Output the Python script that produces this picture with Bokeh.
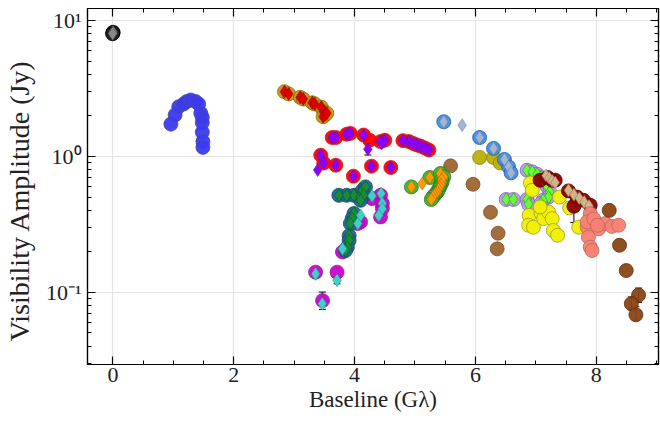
from bokeh.plotting import figure
from bokeh.models import (LinearAxis, LogAxis, FixedTicker,
                          CustomJSTickFormatter, ColumnDataSource, Whisker, TeeHead)
from bokeh.embed import file_html
from bokeh.resources import INLINE

# ---------------- data (baseline in Glambda, amplitude in Jy) ----------------
blk_x = [0.0, 0.004, -0.004]
blk_y = [8.05, 8.15, 7.95]

blue_x = [0.96, 1.03, 1.09, 1.17, 1.22, 1.29, 1.37, 1.42, 1.455, 1.48, 1.48, 1.48, 1.49, 1.49]
blue_y = [1.72, 2.01, 2.31, 2.42, 2.52, 2.59, 2.52, 2.42, 2.07, 1.93, 1.76, 1.50, 1.28, 1.16]

gold_x = [2.84, 2.91, 3.10, 3.15, 3.30, 3.34, 3.45, 3.49, 3.51, 3.48, 3.54]
gold_y = [2.98, 2.87, 2.71, 2.63, 2.47, 2.42, 2.29, 2.12, 2.01, 1.95, 2.07]

red_x = [3.63, 3.69, 3.87, 3.93, 4.15, 4.25, 4.43, 4.50, 4.80, 4.90, 4.97, 5.03, 5.09, 5.16, 5.23,
         3.44, 3.49, 3.69, 3.98, 4.28, 4.60]
red_y = [1.37, 1.37, 1.45, 1.47, 1.43, 1.31, 1.28, 1.31, 1.30, 1.28, 1.24, 1.21, 1.185, 1.15, 1.11,
         1.017, 0.89, 0.858, 0.712, 0.844, 0.825]
purp_x = [3.63, 3.69, 3.87, 3.93, 4.15, 4.43, 4.50, 4.80, 4.90, 4.97, 5.03, 5.09, 5.16, 5.23,
          3.44, 3.49, 3.69, 3.98, 4.28, 4.60, 3.39, 4.22, 4.45]
purp_y = [1.37, 1.37, 1.45, 1.47, 1.43, 1.28, 1.31, 1.30, 1.28, 1.24, 1.21, 1.185, 1.15, 1.11,
          1.017, 0.89, 0.858, 0.712, 0.844, 0.825, 0.79, 1.126, 1.24]

teal_x = [3.74, 3.87, 3.99, 4.09, 4.13, 4.18, 4.15, 4.10, 3.99, 3.96, 3.93, 3.91, 3.91, 3.88, 3.85]
teal_y = [0.515, 0.515, 0.515, 0.50, 0.56, 0.594, 0.515, 0.473, 0.378, 0.347, 0.319, 0.26, 0.24, 0.214, 0.202]

mag_x = [3.355, 3.71, 3.47, 4.29, 4.43, 4.46, 4.46, 4.43, 4.10, 4.05, 3.80]
mag_y = [0.140, 0.140, 0.0865, 0.487, 0.515, 0.448, 0.412, 0.357, 0.328, 0.319, 0.197]
turq_x = [4.29, 4.44, 4.46, 4.46, 4.40, 4.10, 4.055, 3.80, 3.355, 3.71, 3.466]
turq_y = [0.51, 0.53, 0.448, 0.41, 0.366, 0.366, 0.319, 0.208, 0.136, 0.122, 0.082]

grn_x = [4.94, 5.245, 5.42, 5.476, 5.45, 5.44, 5.43, 5.41, 5.39, 5.37, 5.345, 5.32, 5.295, 5.27]
grn_y = [0.594, 0.696, 0.745, 0.703, 0.646, 0.67, 0.62, 0.594, 0.57, 0.545, 0.53, 0.515, 0.50, 0.48]
org_x = grn_x + [5.12]
org_y = grn_y + [0.628]

sien_x = [5.59, 5.96, 6.25, 6.375, 6.36]
sien_y = [0.848, 0.621, 0.386, 0.271, 0.208]

olive_x = [6.07, 6.30, 6.41]
olive_y = [0.978, 0.978, 0.89]

dodg_x = [5.476, 6.07, 6.30, 6.48, 6.55, 6.59]
dodg_y = [1.79, 1.37, 1.14, 0.945, 0.834, 0.753]
steel_x = dodg_x + [5.78]
steel_y = dodg_y + [1.69]

lav_x = [6.855, 6.94, 7.02, 7.085, 7.14, 7.185, 7.23, 7.21, 6.51, 6.63, 6.855, 6.88, 7.12, 7.085]
lav_y = [0.788, 0.766, 0.736, 0.696, 0.646, 0.60, 0.545, 0.50, 0.48, 0.48, 0.48, 0.443, 0.473, 0.448]

yel_x = [6.91, 6.94, 6.89, 6.88, 6.96, 7.085, 7.13, 7.21, 7.27, 7.29, 7.36, 7.39, 7.56, 7.71, 7.07]
yel_y = [0.635, 0.561, 0.367, 0.31, 0.30, 0.381, 0.347, 0.388, 0.347, 0.284, 0.262, 0.50, 0.416, 0.30, 0.423]

dred_x = [7.07, 7.195, 7.27, 7.32, 7.54, 7.68, 7.79, 7.90, 7.63]
dred_y = [0.665, 0.696, 0.665, 0.665, 0.555, 0.50, 0.473, 0.435, 0.428]
tan_x = [7.17, 7.22, 7.27, 7.32, 7.54, 7.63, 7.72, 7.80, 7.88]
tan_y = [0.72, 0.69, 0.66, 0.64, 0.56, 0.52, 0.49, 0.46, 0.43]

salm_x = [7.90, 7.98, 8.04, 8.15, 8.26, 8.37, 7.85, 7.87, 7.90, 7.93, 7.85, 7.96, 8.02]
salm_y = [0.377, 0.328, 0.292, 0.319, 0.304, 0.31, 0.30, 0.254, 0.214, 0.202, 0.328, 0.345, 0.31]

dbrn_x = [8.215, 8.385, 8.496, 8.70, 8.58, 8.656]
dbrn_y = [0.399, 0.221, 0.144, 0.095, 0.082, 0.068]

err_x = [4.22, 3.466, 3.71, 7.63, 8.70, 8.58, 8.656]
err_lo = [1.02, 0.0745, 0.115, 0.325, 0.084, 0.074, 0.062]
err_hi = [1.24, 0.100, 0.130, 0.535, 0.107, 0.092, 0.078]

x_ticks = [0, 2, 4, 6, 8]
y_ticks = [0.1, 1, 10]

# ---------------- figure ----------------
FONT = "Liberation Serif"
p = figure(width=660, height=422, y_axis_type="log",
           x_range=(-0.42, 9.03), y_range=(0.0293, 12.2),
           output_backend="svg", toolbar_location=None,
           min_border_left=86, min_border_right=2, min_border_top=8, min_border_bottom=58)
p.outline_line_color = "black"
p.outline_line_width = 1.2
p.background_fill_color = "white"

xticker = FixedTicker(ticks=x_ticks, minor_ticks=[v * 0.5 for v in range(-1, 19)])
yminor = [m * 10.0 ** e for e in (-2, -1, 0, 1) for m in range(2, 10)]
yticker = FixedTicker(ticks=y_ticks, minor_ticks=yminor)

sup = CustomJSTickFormatter(code="""
const e = Math.round(Math.log10(tick));
const s = {'-':'\u207b','0':'\u2070','1':'\u00b9','2':'\u00b2','3':'\u00b3','4':'\u2074',
           '5':'\u2075','6':'\u2076','7':'\u2077','8':'\u2078','9':'\u2079'};
return '10' + String(e).split('').map(c => s[c]).join('');
""")

def style(ax):
    ax.major_tick_in = 8
    ax.major_tick_out = 0
    ax.minor_tick_in = 4
    ax.minor_tick_out = 0
    ax.major_tick_line_color = "black"
    ax.minor_tick_line_color = "black"
    ax.major_tick_line_width = 1.2
    ax.minor_tick_line_width = 1
    ax.axis_line_color = "black"
    ax.axis_line_width = 1.2
    ax.major_label_text_font = FONT
    ax.major_label_text_font_size = "22px"
    ax.major_label_text_color = "#222222"
    ax.axis_label_text_font = FONT
    ax.axis_label_text_font_style = "normal"
    ax.axis_label_text_color = "#222222"

xa = p.xaxis[0]
xa.ticker = xticker
style(xa)
xa.axis_label = "Baseline (G\u03bb)"
xa.axis_label_text_font_size = "23px"
xa.major_label_standoff = 3
xa.axis_label_standoff = 2

ya = p.yaxis[0]
ya.ticker = yticker
ya.formatter = sup
style(ya)
# trailing no-break spaces nudge the centred, rotated title slightly downwards
ya.axis_label = "Visibility Amplitude (Jy)" + "\u00a0" * 4
ya.axis_label_text_font_size = "28px"
ya.major_label_standoff = 6
ya.axis_label_standoff = 8

top = LinearAxis(ticker=xticker)
style(top)
top.major_label_text_color = None
top.major_label_text_font_size = "1px"
top.major_label_standoff = 0
p.add_layout(top, "above")
right = LogAxis(ticker=yticker)
style(right)
right.major_label_text_color = None
right.major_label_text_font_size = "1px"
right.major_label_standoff = 0
p.add_layout(right, "right")

for g in (p.xgrid[0], p.ygrid[0]):
    g.grid_line_color = "#e4e4e4"
    g.grid_line_width = 1.2
p.xgrid[0].ticker = xticker
p.ygrid[0].ticker = yticker

CS = 14
DS = 13

def circ(x, y, color, edge="#555555"):
    p.scatter(x, y, marker="circle", size=CS, fill_color=color, line_color=edge,
              line_width=0.8, fill_alpha=0.95)

def diam(x, y, color, edge="#444444"):
    p.scatter(x, y, marker="diamond", size=DS, fill_color=color, line_color=edge,
              line_width=0.5)

# error bars first
esrc = ColumnDataSource(dict(x=err_x, lo=err_lo, hi=err_hi))
p.add_layout(Whisker(source=esrc, base="x", lower="lo", upper="hi", dimension="height",
                     line_color="black", line_width=1,
                     lower_head=TeeHead(size=7, line_color="black", line_width=1),
                     upper_head=TeeHead(size=7, line_color="black", line_width=1)))

circ(blk_x, blk_y, "#222222", edge="#000000")
diam(blk_x, blk_y, "#888888")
circ(blue_x, blue_y, "#3a3af2", edge="#4a4aa0")
circ(gold_x, gold_y, "#c8960c", edge="#8a6a10")
diam(gold_x, gold_y, "#e00000", edge="#800000")
circ(sien_x, sien_y, "#9c6632", edge="#7a5530")
circ(red_x, red_y, "#ff0000", edge="#cc2020")
diam(purp_x, purp_y, "#8c00ff", edge="#5a2090")
circ(mag_x, mag_y, "#cc00cc", edge="#8a2a8a")
circ(teal_x, teal_y, "#17688c", edge="#1a4a60")
diam(teal_x, teal_y, "#1a8c3c", edge="#0e4a20")
diam(turq_x, turq_y, "#40d0cc", edge="#2a8a88")
circ(grn_x, grn_y, "#40b428", edge="#2a7a20")
diam(org_x, org_y, "#ff9a00", edge="#a06010")
circ(olive_x, olive_y, "#bcb000", edge="#8a8020")
circ(dodg_x, dodg_y, "#3d8ee8", edge="#2a5a9a")
diam(steel_x, steel_y, "#a4b4d4", edge="#6a7a9a")
circ(lav_x, lav_y, "#b89ae8", edge="#7a6aa8")
diam(lav_x, lav_y, "#66ff33", edge="#2a7a20")
circ(yel_x, yel_y, "#f0f000", edge="#9a9a20")
circ(dred_x, dred_y, "#8b0000", edge="#5a0000")
diam(tan_x, tan_y, "#d2b48c", edge="#8a6a4a")
circ(salm_x, salm_y, "#fa8072", edge="#b06a60")
circ(dbrn_x, dbrn_y, "#8b4513", edge="#5a3010")

open("out.html", "w").write(file_html(p, INLINE))
